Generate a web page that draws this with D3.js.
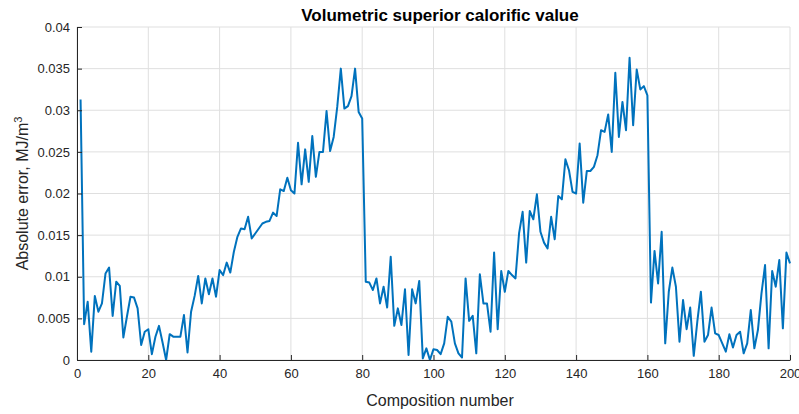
<!DOCTYPE html>
<html><head><meta charset="utf-8">
<script src="https://cdn.jsdelivr.net/npm/d3@7"></script>
<style>
html,body{margin:0;padding:0;background:#fff;}
svg{display:block;font-family:"Liberation Sans",Arial,sans-serif;}
</style></head>
<body>
<svg id="c" width="799" height="414"></svg>
<script>
const title = "Volumetric superior calorific value";
const xLabel = "Composition number";
const yLabelMain = "Absolute error, MJ/m";
const yLabelSup = "3";
const xTicks = [0,20,40,60,80,100,120,140,160,180,200];
const yTicks = [0,0.005,0.01,0.015,0.02,0.025,0.03,0.035,0.04];
const yTickLabels = ["0","0.005","0.01","0.015","0.02","0.025","0.03","0.035","0.04"];
const compositions = d3.range(1, 201);
const errors = [
0.0313,0.0043,0.0070,0.0010,0.0077,0.0058,0.0068,0.0104,0.0111,0.0053,
0.0094,0.0089,0.0027,0.0052,0.0076,0.0075,0.0062,0.0018,0.0034,0.0037,
0.0007,0.0028,0.0041,0.0021,0.0000,0.0031,0.0028,0.0028,0.0028,0.0054,
0.0009,0.0058,0.0077,0.0101,0.0068,0.0098,0.0079,0.0098,0.0076,0.0108,
0.0102,0.0117,0.0105,0.0130,0.0148,0.0158,0.0157,0.0172,0.0146,0.0152,
0.0158,0.0164,0.0166,0.0167,0.0177,0.0173,0.0205,0.0203,0.0219,0.0204,
0.0200,0.0261,0.0211,0.0253,0.0214,0.0269,0.0220,0.0250,0.0250,0.0299,
0.0251,0.0268,0.0304,0.0350,0.0302,0.0305,0.0317,0.0350,0.0298,0.0290,
0.0094,0.0093,0.0084,0.0098,0.0068,0.0088,0.0063,0.0124,0.0041,0.0062,
0.0042,0.0085,0.0006,0.0085,0.0068,0.0095,0.0002,0.0014,0.0000,0.0013,
0.0012,0.0007,0.0020,0.0052,0.0046,0.0020,0.0008,0.0003,0.0098,0.0047,
0.0053,0.0008,0.0103,0.0068,0.0068,0.0034,0.0129,0.0037,0.0107,0.0082,
0.0107,0.0102,0.0098,0.0152,0.0178,0.0117,0.0179,0.0169,0.0199,0.0154,
0.0141,0.0134,0.0172,0.0145,0.0197,0.0193,0.0241,0.0228,0.0202,0.0200,
0.0260,0.0189,0.0227,0.0227,0.0232,0.0246,0.0276,0.0274,0.0295,0.0250,
0.0345,0.0268,0.0310,0.0276,0.0363,0.0282,0.0349,0.0325,0.0329,0.0318,
0.0069,0.0131,0.0092,0.0154,0.0020,0.0082,0.0111,0.0088,0.0022,0.0072,
0.0037,0.0063,0.0005,0.0046,0.0082,0.0022,0.0030,0.0063,0.0032,0.0030,
0.0020,0.0010,0.0031,0.0015,0.0030,0.0034,0.0008,0.0020,0.0060,0.0014,
0.0036,0.0080,0.0114,0.0014,0.0107,0.0088,0.0120,0.0038,0.0129,0.0116
];

const W = 799, H = 414;
const m = {left:77, right:9, top:27, bottom:54};
const svg = d3.select("#c");
const x = d3.scaleLinear().domain([0,200]).range([m.left, W - m.right]);
const y = d3.scaleLinear().domain([0,0.04]).range([H - m.bottom, m.top]);
const axisCol = "#262626";
const gridCol = "#dfdfdf";
const labelCx = 440;

// grid
const g = svg.append("g");
g.selectAll("line.gx").data(xTicks).join("line")
  .attr("x1", d => x(d)).attr("x2", d => x(d))
  .attr("y1", y(0)).attr("y2", y(0.04))
  .attr("stroke", gridCol).attr("stroke-width", 1);
g.selectAll("line.gy").data(yTicks).join("line")
  .attr("y1", d => y(d)).attr("y2", d => y(d))
  .attr("x1", x(0)).attr("x2", x(200))
  .attr("stroke", gridCol).attr("stroke-width", 1);

// line
const line = d3.line().x((d,i) => x(compositions[i])).y(d => y(d));
svg.append("path").datum(errors)
  .attr("d", line).attr("fill","none")
  .attr("stroke","#0072BD").attr("stroke-width",2)
  .attr("stroke-linejoin","round");

// axes
const xAxis = d3.axisBottom(x).tickValues(xTicks).tickSizeInner(-5).tickSizeOuter(0).tickPadding(9);
const xg = svg.append("g").attr("transform", `translate(0,${y(0)})`).call(xAxis);
const yAxis = d3.axisLeft(y).tickValues(yTicks).tickFormat((d,i) => yTickLabels[i]).tickSizeInner(-5).tickSizeOuter(0).tickPadding(7);
const yg = svg.append("g").attr("transform", `translate(${x(0)},0)`).call(yAxis);
[xg, yg].forEach(a => {
  a.select(".domain").attr("stroke", axisCol);
  a.selectAll(".tick line").attr("stroke", axisCol);
  a.selectAll(".tick text").attr("fill", axisCol).attr("font-size", 13)
   .attr("font-family", '"Liberation Sans",Arial,sans-serif');
});

// labels
svg.append("text").attr("x", labelCx).attr("y", 21)
  .attr("text-anchor","middle").attr("font-weight","bold").attr("font-size",17)
  .attr("fill","#000").text(title);
svg.append("text").attr("x", labelCx).attr("y", 406)
  .attr("text-anchor","middle").attr("font-size",16).attr("fill",axisCol).text(xLabel);
const yl = svg.append("text").attr("transform", `translate(28,${(y(0)+y(0.04))/2}) rotate(-90)`)
  .attr("text-anchor","middle").attr("font-size",16).attr("fill",axisCol);
yl.append("tspan").text(yLabelMain);
yl.append("tspan").attr("dy",-6).attr("font-size",11).text(yLabelSup);
</script>
</body></html>
